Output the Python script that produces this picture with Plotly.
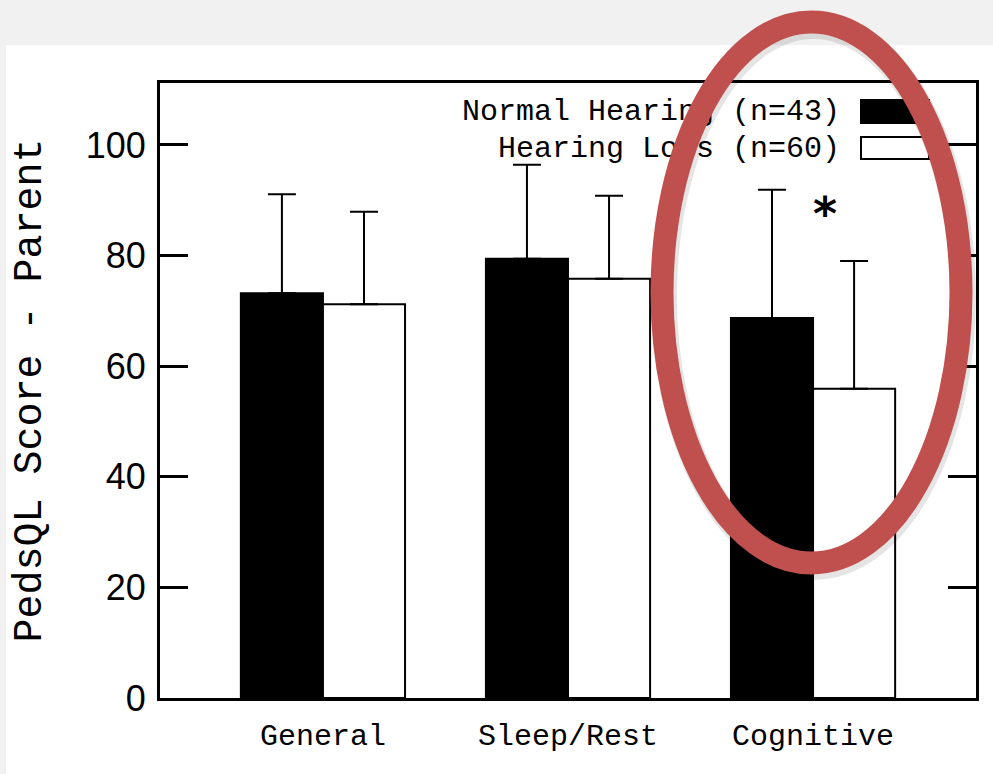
import plotly.graph_objects as go

# PedsQL parent-report scores by domain (mean and +1 SD)
categories = ["General", "Sleep/Rest", "Cognitive"]
series_names = ["Normal Hearing (n=43)", "Hearing Loss (n=60)"]
normal_mean = [73.2, 79.4, 68.7]
normal_sd = [17.9, 17.0, 23.2]
loss_mean = [71.2, 75.8, 55.9]
loss_sd = [16.7, 15.0, 23.1]
y_ticks = [0, 20, 40, 60, 80, 100]
significant = ["Cognitive"]

W, H = 993, 774
L, R, T, B = 160, 976, 83, 698
MONO = "Liberation Mono, DejaVu Sans Mono, monospace"
SANS = "Liberation Sans, Arial, sans-serif"
RED = "#C0504D"


def px(x):
    return (x - L) / (R - L)


def py(y):
    return (B - y) / (B - T)


fig = go.Figure()
for name, mean, sd, fill in [
    (series_names[0], normal_mean, normal_sd, "black"),
    (series_names[1], loss_mean, loss_sd, "white"),
]:
    fig.add_trace(go.Bar(
        x=categories, y=mean, name=name, showlegend=False,
        marker=dict(color=fill, line=dict(color="black", width=2)),
        error_y=dict(type="data", symmetric=False, array=sd,
                     arrayminus=[0] * len(sd), color="black",
                     thickness=2, width=14),
    ))

shapes = [
    # grey page border at top and left
    dict(type="rect", xref="paper", yref="paper", x0=px(0), x1=px(W),
         y0=py(45), y1=py(0), fillcolor="#f1f1f1", line_width=0, layer="below"),
    dict(type="rect", xref="paper", yref="paper", x0=px(0), x1=px(6),
         y0=py(H), y1=py(0), fillcolor="#f1f1f1", line_width=0, layer="below"),
]

# legend drawn on the right, swatch after the label; the labels are a text
# trace on a hidden pixel-scaled overlay axis so the ring can sit on top
legend_rows = [(series_names[0], "black", 112, 100, 123),
               (series_names[1], "white", 149, 137, 159)]
fig.add_trace(go.Scatter(
    x=[840, 840], y=[r[2] for r in legend_rows],
    text=[r[0] for r in legend_rows], mode="text",
    textposition="middle left", xaxis="x2", yaxis="y2",
    textfont=dict(family=MONO, size=30, color="black"),
    showlegend=False, hoverinfo="skip", cliponaxis=False))
for text, fill, yc, ya, yb in legend_rows:
    shapes.append(dict(type="rect", xref="paper", yref="paper",
                       x0=px(861), x1=px(929), y0=py(yb), y1=py(ya),
                       fillcolor=fill, line=dict(color="black", width=2),
                       layer="below"))

# significance marker
annotations = []
for cat in significant:
    i = categories.index(cat)
    annotations.append(dict(
        text="<b>*</b>", x=cat, y=loss_mean[i] + loss_sd[i] + 9,
        xref="x", yref="y", xshift=12, yshift=-3, showarrow=False,
        font=dict(family="DejaVu Sans", size=46, color="black")))

# highlight ring (with soft shadow)
cx, cy, ax, ay = 811.5, 292.5, 149.5, 270.5
shapes.append(dict(type="circle", xref="paper", yref="paper",
                   x0=px(cx - ax + 2), x1=px(cx + ax + 2),
                   y0=py(cy + ay + 4), y1=py(cy - ay + 4),
                   line=dict(color="rgba(0,0,0,0.10)", width=26)))
shapes.append(dict(type="circle", xref="paper", yref="paper",
                   x0=px(cx - ax), x1=px(cx + ax),
                   y0=py(cy + ay), y1=py(cy - ay),
                   line=dict(color=RED, width=23)))

fig.update_layout(
    width=W, height=H,
    margin=dict(l=L, r=W - R, t=T, b=H - B, pad=0),
    paper_bgcolor="white", plot_bgcolor="white",
    barmode="group", bargap=0.33, bargroupgap=0,
    shapes=shapes, annotations=annotations,
    xaxis=dict(range=[-0.665, 2.665], showline=True, linecolor="black",
               linewidth=3, mirror=True, ticks="", showgrid=False,
               tickfont=dict(family=MONO, size=30, color="black"),
               ticklabelstandoff=8, automargin=False),
    yaxis=dict(range=[0, 111.2], tickvals=y_ticks, showline=True,
               linecolor="black", linewidth=3, mirror="ticks",
               ticks="inside", ticklen=28, tickwidth=3, tickcolor="black",
               showgrid=False, zeroline=False,
               tickfont=dict(family=SANS, size=36, color="black"),
               ticklabelstandoff=4, automargin=False,
               title=dict(text="PedsQL Score - Parent", standoff=32,
                          font=dict(family=MONO, size=40, color="black"))),
    xaxis2=dict(overlaying="x", range=[L, R], visible=False, fixedrange=True),
    yaxis2=dict(overlaying="y", range=[B, T], visible=False, fixedrange=True),
)

fig.write_html("out.html")
